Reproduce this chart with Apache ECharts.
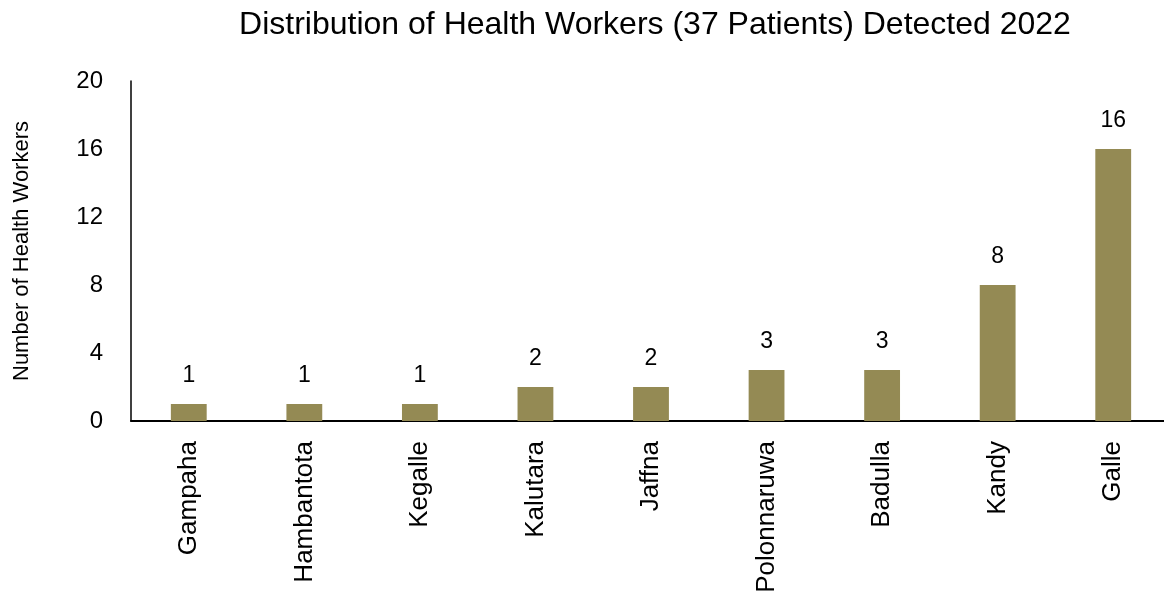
<!DOCTYPE html>
<html><head><meta charset="utf-8">
<script src="https://cdn.jsdelivr.net/npm/echarts@6/dist/echarts.min.js"></script>
<style>html,body{margin:0;padding:0;background:#fff;overflow:hidden}#c{width:1172px;height:601px}</style>
</head><body><div id="c"></div>
<script>
const categories = ["Gampaha","Hambantota","Kegalle","Kalutara","Jaffna","Polonnaruwa","Badulla","Kandy","Galle"];
const values = [1,1,1,2,2,3,3,8,16];
const titleText = "Distribution of Health Workers (37 Patients) Detected 2022";
const yAxisName = "Number of Health Workers";
const FONT = "Liberation Sans";
const chart = echarts.init(document.getElementById('c'), null, {renderer:'canvas'});
chart.setOption({
  animation:false,
  backgroundColor:'#fff',
  title:{text:titleText,left:650,textAlign:'center',top:4,textStyle:{fontFamily:FONT,fontSize:32,fontWeight:'normal',color:'#000'}},
  grid:{left:131,right:1,top:81,height:340,containLabel:false},
  xAxis:{type:'category',data:categories,
    axisLine:{lineStyle:{color:'#000',width:2}},axisTick:{show:false},
    axisLabel:{rotate:90,fontFamily:FONT,fontSize:26,color:'#000',margin:20,interval:0}},
  yAxis:{type:'value',min:0,max:20,interval:4,name:yAxisName,nameLocation:'middle',nameGap:98,
    nameTextStyle:{fontFamily:FONT,fontSize:22,color:'#000'},
    axisLine:{show:true,lineStyle:{color:'#000',width:1.5}},axisTick:{show:false},splitLine:{show:false},
    axisLabel:{fontFamily:FONT,fontSize:24,color:'#000',margin:28}},
  series:[{type:'bar',data:values,barWidth:'31%',itemStyle:{color:'#948A54'},
    label:{show:true,position:'top',distance:17,fontFamily:FONT,fontSize:23,color:'#000'}}]
});
</script></body></html>
